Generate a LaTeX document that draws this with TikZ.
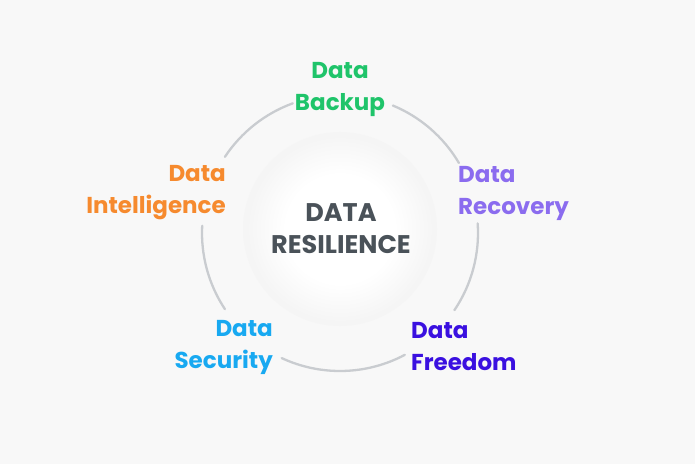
\documentclass[tikz,border=0pt]{standalone}
\usepackage{fontspec}
\setmainfont{Poppins}
\definecolor{bg}{HTML}{F8F8F8}
\definecolor{ring}{HTML}{C9CCD0}
\definecolor{edgegray}{HTML}{F5F5F5}
\definecolor{cbackup}{HTML}{1FC46A}
\definecolor{cintel}{HTML}{F68A2E}
\definecolor{crecov}{HTML}{8B6CEF}
\definecolor{csecur}{HTML}{18A9F1}
\definecolor{cfree}{HTML}{3A10E0}
\definecolor{ccenter}{HTML}{4A5259}
\pgfdeclareradialshading{softdisc}{\pgfpoint{0bp}{0bp}}{color(0bp)=(white); color(14bp)=(white); color(24bp)=(edgegray); color(25bp)=(edgegray); color(25.5bp)=(bg); color(50bp)=(bg)}
\begin{document}
\begin{tikzpicture}[x=1pt,y=1pt,
  lbl/.style={font=\fontsize{23}{32}\selectfont\bfseries, inner sep=0pt},
  ringarc/.style={draw=ring, line width=2.3pt, line cap=round}]
\fill[bg] (0,0) rectangle (695,464);
\useasboundingbox (0,0) rectangle (695,464);
\coordinate (c) at (340,231);
% inner soft circle
\shade[shading=softdisc] (340,235) circle (97);
% ring arcs
\draw[ringarc] ([shift={(146.5:138)}]c) arc (146.5:110:138);
\draw[ringarc] ([shift={(67.5:138)}]c) arc (67.5:30.5:138);
\draw[ringarc] ([shift={(4:138)}]c) arc (4:-34:138);
\draw[ringarc] ([shift={(-62:138)}]c) arc (-62:-115:138);
\draw[ringarc] ([shift={(213.5:138)}]c) arc (213.5:177:138);
% labels
\node[lbl, text=cbackup, align=center] (backup) at (340,375) {Data\\Backup};
\node[lbl, text=cintel, align=right, anchor=east] (intel) at (226,271) {Data\\Intelligence};
\node[lbl, text=crecov, align=left, anchor=west] (recov) at (458,271) {Data\\Recovery};
\node[lbl, text=csecur, align=right, anchor=east] (secur) at (273,117) {Data\\Security};
\node[lbl, text=cfree, align=left, anchor=west] (free) at (411,117) {Data\\Freedom};
\node[lbl, font=\fontsize{25.5}{32}\selectfont\bfseries, text=ccenter, align=center] (center) at (341,235) {DATA\\RESILIENCE};
\end{tikzpicture}
\end{document}
